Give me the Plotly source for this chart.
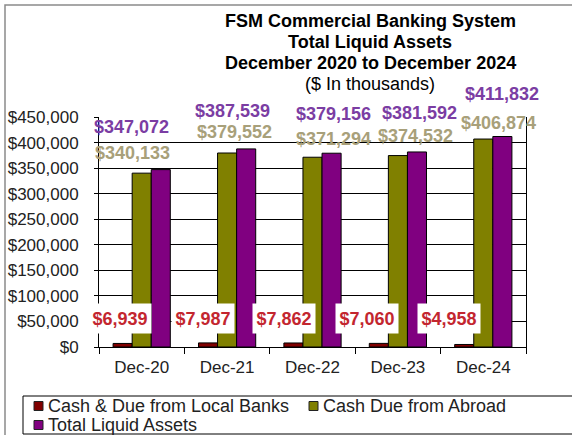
import plotly.graph_objects as go

# ---- data ----
categories = ["Dec-20", "Dec-21", "Dec-22", "Dec-23", "Dec-24"]
local_banks = [6939, 7987, 7862, 7060, 4958]
abroad = [340133, 379552, 371294, 374532, 406874]
total = [347072, 387539, 379156, 381592, 411832]
series_names = ["Cash & Due from Local Banks", "Cash Due from Abroad", "Total Liquid Assets"]
y_max = 450000
y_tick_vals = [0, 50000, 100000, 150000, 200000, 250000, 300000, 350000, 400000, 450000]
title_lines = ["<b>FSM Commercial Banking System</b>", "<b>Total Liquid Assets</b>",
               "<b>December 2020 to December 2024</b>", "($ In thousands)"]

# ---- label placement (manual, as in the original) ----
local_label_y = [56700, 56700, 56700, 56700, 56700]
local_label_dx = [-22, -24, -29, -31, -34]
abroad_label_y = [379600, 420700, 407000, 412800, 439200]
abroad_label_dx = [-9, 7, 21, 18, 15]
total_label_y = [430400, 461700, 455900, 458800, 495000]
total_label_dx = [-10, 5, 21, 22, 19]

# ---- layout constants ----
W, H = 572, 435
L, R, T, B = 99, 46, 117, 88
PW, PH = W - L - R, H - T - B

def px_x(px):
    return (px - L) / PW

def px_y(py):
    return (H - B - py) / PH

bar_colors = ["#800000", "#808000", "#800080"]
label_colors = ["#C3262F", "#A8A07A", "#7B3DA3"]
FONT = "Liberation Sans, Arial, sans-serif"

def money(v):
    return "${:,}".format(v)

fig = go.Figure()
for name, vals, col in zip(series_names, [local_banks, abroad, total], bar_colors):
    fig.add_trace(go.Bar(
        x=categories, y=vals, name=name,
        marker=dict(color=col, line=dict(color="black", width=1)),
        hoverinfo="x+y", showlegend=False,
    ))

ann = []
for i, c in enumerate(categories):
    ann.append(dict(x=c, y=total_label_y[i] / y_max, xref="x", yref="paper",
                    text="<b>%s</b>" % money(total[i]),
                    showarrow=False, xshift=total_label_dx[i], yanchor="middle",
                    font=dict(family=FONT, size=18, color=label_colors[2])))
    ann.append(dict(x=c, y=abroad_label_y[i] / y_max, xref="x", yref="paper",
                    text="<b>%s</b>" % money(abroad[i]),
                    showarrow=False, xshift=abroad_label_dx[i], yanchor="middle",
                    font=dict(family=FONT, size=18, color=label_colors[1])))
    ann.append(dict(x=c, y=local_label_y[i] / y_max, xref="x", yref="paper",
                    text="<b>%s</b>" % money(local_banks[i]),
                    showarrow=False, xshift=local_label_dx[i], yanchor="middle",
                    bgcolor="white", width=60, height=27, borderpad=1,
                    font=dict(family=FONT, size=18, color=label_colors[0])))

title_y = [21, 42, 63, 84]
for line, py in zip(title_lines, title_y):
    ann.append(dict(x=px_x(370), y=px_y(py), xref="paper", yref="paper", text=line,
                    showarrow=False, xanchor="center", yanchor="middle",
                    font=dict(family=FONT, size=18, color="black")))

shapes = [
    # outer chart border
    dict(type="rect", xref="paper", yref="paper", x0=px_x(5), x1=px_x(620), y0=px_y(480), y1=px_y(5),
         line=dict(color="#8a8a8a", width=1.5), fillcolor="rgba(0,0,0,0)", layer="below"),
    # legend border
    dict(type="rect", xref="paper", yref="paper", x0=px_x(23), x1=px_x(620), y0=px_y(434), y1=px_y(396),
         line=dict(color="black", width=1), fillcolor="rgba(0,0,0,0)"),
]

# ---- legend (Excel-style, two rows) ----
legend_pos = [(34, 406), (309, 406), (34, 425)]  # symbol left x, row center y
for name, col, (sx, sy) in zip(series_names, bar_colors, legend_pos):
    shapes.append(dict(type="rect", xref="paper", yref="paper",
                       x0=px_x(sx), x1=px_x(sx + 9), y0=px_y(sy + 4.5), y1=px_y(sy - 4.5),
                       line=dict(color="#222", width=1), fillcolor=col))
    ann.append(dict(x=px_x(sx + 12), y=px_y(sy), xref="paper", yref="paper", text=name,
                    showarrow=False, xanchor="left", yanchor="middle",
                    font=dict(family=FONT, size=18, color="#222")))

fig.update_layout(
    width=W, height=H,
    margin=dict(l=L, r=R, t=T, b=B, autoexpand=False),
    paper_bgcolor="white", plot_bgcolor="white",
    barmode="group", bargap=0.33, bargroupgap=0,
    font=dict(family=FONT, size=17, color="#222"),
    showlegend=False,
    annotations=ann,
    shapes=shapes,
)
fig.update_xaxes(range=[-0.5, len(categories) - 0.5], autorange=False,
                 showline=True, linecolor="black", linewidth=1,
                 ticks="outside", tickson="boundaries", ticklen=6, tickcolor="black",
                 ticklabelstandoff=5,
                 showgrid=False, tickfont=dict(family=FONT, size=17, color="#222"))
fig.update_yaxes(range=[0, y_max], autorange=False, tickvals=y_tick_vals,
                 ticktext=[money(v) for v in y_tick_vals],
                 showline=True, linecolor="black", linewidth=1, mirror=True,
                 ticks="outside", ticklen=4, tickcolor="black", ticklabelstandoff=12,
                 showgrid=True, gridcolor="black", gridwidth=1, zeroline=False,
                 tickfont=dict(family=FONT, size=17, color="#222"))

fig.write_html("out.html")
